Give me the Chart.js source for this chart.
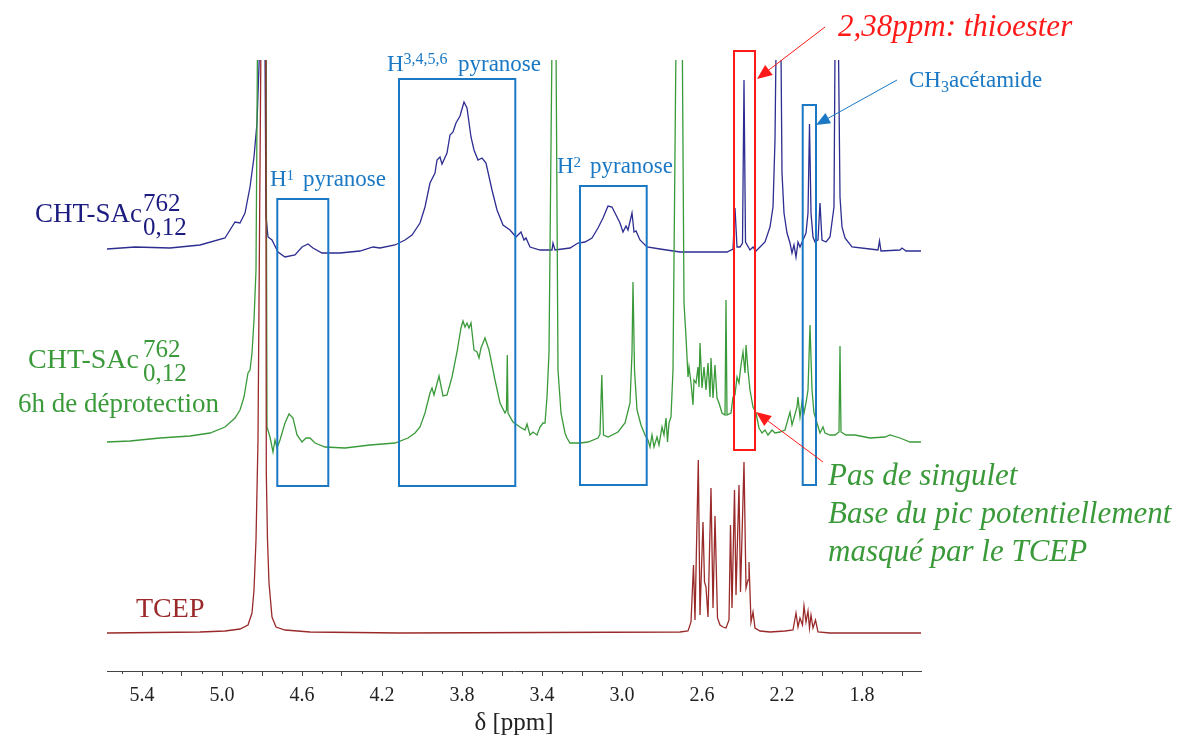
<!DOCTYPE html>
<html>
<head>
<meta charset="utf-8">
<title>RMN 1H - CHT-SAc</title>
<script src="https://cdn.jsdelivr.net/npm/chart.js@4.4.1/dist/chart.umd.min.js"></script>
<style>
  html, body { margin: 0; padding: 0; background: #fff; }
</style>
</head>
<body>
<canvas id="nmr" width="1186" height="740"></canvas>
<script>
/* ============================================
   DATA (ppm / intensity)
============================================ */
const ppmBlue = [
  5.575, 5.435, 5.26, 5.11, 4.985, 4.935, 4.91, 4.885, 4.86, 4.84,
  4.825, 4.8125, 4.7985, 4.785, 4.78, 4.77, 4.75, 4.72, 4.685, 4.635,
  4.6, 4.57, 4.545, 4.5, 4.41, 4.31, 4.245, 4.21, 4.135, 4.085,
  4.05, 4.01, 3.985, 3.96, 3.935, 3.925, 3.91, 3.9, 3.875, 3.86,
  3.845, 3.83, 3.81, 3.79, 3.775, 3.755, 3.74, 3.72, 3.7, 3.68,
  3.65, 3.625, 3.595, 3.56, 3.53, 3.505, 3.49, 3.48, 3.46, 3.41,
  3.35, 3.345, 3.335, 3.26, 3.22, 3.185, 3.15, 3.12, 3.095, 3.07,
  3.05, 3.03, 3.01, 2.995, 2.98, 2.97, 2.95, 2.94, 2.93, 2.91,
  2.875, 2.81, 2.71, 2.61, 2.475, 2.445, 2.435, 2.425, 2.41, 2.3975,
  2.39, 2.3825, 2.36, 2.345, 2.33, 2.31, 2.285, 2.27, 2.26, 2.245,
  2.235, 2.23, 2.2175, 2.205, 2.2, 2.19, 2.175, 2.16, 2.15, 2.14,
  2.13, 2.12, 2.11, 2.095, 2.08, 2.07, 2.0625, 2.055, 2.045, 2.035,
  2.02, 2.01, 2.0, 1.98, 1.96, 1.94, 1.935, 1.9265, 1.9175, 1.91,
  1.9, 1.885, 1.85, 1.76, 1.72, 1.7125, 1.705, 1.61, 1.6, 1.58,
  1.505
];
const intBlue = [
  2, 4, 3, 6, 13, 29, 28, 38, 64, 94,
  128, 200, 3000, 200, 35, 14, 11, -1, -6, -4,
  4, 7, 3, -2, -2, 0, 4, 3, 6, 11,
  16, 28, 44, 68, 78, 91, 94, 87, 98, 116,
  119, 128, 135, 149, 143, 114, 101, 91, 93, 88,
  61, 41, 26, 21, 14, 19, 11, 13, 4, 1,
  1, 8, 1, 3, 8, 9, 13, 23, 33, 45,
  44, 36, 28, 19, 25, 21, 38, 19, 20, 11,
  4, 2, -1, -1, -1, 2, 43, 4, 4, 8,
  171, 9, 1, 4, 0, 4, 9, 18, 24, 44,
  111, 200, 3000, 200, 78, 38, 18, 8, -2, 6,
  -6, 9, 4, 11, 18, 38, 127, 38, 14, 9,
  11, 48, 11, 9, 14, 44, 200, 3000, 200, 54,
  24, 13, 4, 2, 1, 10, 0, 1, 3, 0,
  0
];

const ppmGreen = [
  5.575, 5.46, 5.31, 5.16, 5.06, 4.985, 4.935, 4.91, 4.89, 4.87,
  4.86, 4.85, 4.84, 4.83, 4.8225, 4.8, 4.78, 4.775, 4.76, 4.745,
  4.735, 4.725, 4.71, 4.685, 4.665, 4.645, 4.625, 4.6, 4.58, 4.56,
  4.535, 4.485, 4.385, 4.26, 4.135, 4.07, 4.035, 4.01, 3.985, 3.96,
  3.95, 3.94, 3.915, 3.895, 3.875, 3.85, 3.825, 3.805, 3.795, 3.785,
  3.775, 3.765, 3.755, 3.74, 3.725, 3.715, 3.705, 3.685, 3.665, 3.635,
  3.61, 3.585, 3.5775, 3.5735, 3.57, 3.545, 3.51, 3.485, 3.475, 3.46,
  3.445, 3.425, 3.41, 3.395, 3.385, 3.375, 3.365, 3.35, 3.3375, 3.33,
  3.32, 3.305, 3.285, 3.275, 3.26, 3.21, 3.17, 3.12, 3.11, 3.101,
  3.0925, 3.07, 3.02, 2.985, 2.96, 2.95, 2.945, 2.9375, 2.925, 2.905,
  2.885, 2.87, 2.86, 2.85, 2.84, 2.825, 2.815, 2.8, 2.79, 2.78,
  2.7725, 2.765, 2.755, 2.745, 2.73, 2.715, 2.6985, 2.69, 2.68, 2.67,
  2.665, 2.655, 2.645, 2.64, 2.63, 2.62, 2.615, 2.61, 2.6, 2.59,
  2.58, 2.57, 2.56, 2.555, 2.545, 2.535, 2.525, 2.515, 2.5, 2.485,
  2.48, 2.475, 2.455, 2.445, 2.435, 2.425, 2.415, 2.405, 2.395, 2.385,
  2.38, 2.37, 2.36, 2.345, 2.33, 2.315, 2.3, 2.285, 2.27, 2.25,
  2.235, 2.21, 2.185, 2.16, 2.15, 2.14, 2.125, 2.12, 2.11, 2.1,
  2.09, 2.08, 2.07, 2.06, 2.05, 2.04, 2.025, 2.01, 1.995, 1.985,
  1.96, 1.935, 1.915, 1.91, 1.905, 1.88, 1.835, 1.76, 1.685, 1.66,
  1.61, 1.56, 1.505
];
const intGreen = [
  0, 1, 4, 6, 9, 15, 24, 32, 45, 69,
  72, 89, 122, 172, 400, 3000, 400, 15, 5, -10,
  2, -6, 2, 19, 28, 24, 7, 0, 4, 4,
  -1, -5, -6, -3, -1, 4, 9, 15, 29, 49,
  54, 47, 66, 46, 47, 65, 90, 114, 121, 115,
  119, 114, 119, 92, 90, 84, 94, 104, 92, 62,
  39, 29, 32, 87, 29, 20, 15, 12, 18, 7,
  10, 7, 15, 19, 19, 45, 89, 400, 3000, 400,
  72, 29, 9, 4, -1, -1, 0, 4, 8, 67,
  7, 5, 10, 19, 39, 89, 160, 72, 32, 17,
  7, 2, -5, 7, -5, 5, -3, 15, 7, 24,
  0, 19, 25, 72, 400, 3000, 400, 139, 105, 65,
  75, 59, 37, 62, 59, 75, 55, 99, 54, 75,
  52, 79, 45, 84, 44, 77, 44, 39, 29, 27,
  142, 27, 29, 45, 47, 65, 59, 77, 90, 69,
  97, 72, 52, 35, 29, 14, 9, 12, 7, 12,
  9, 10, 12, 30, 17, 24, 35, 45, 25, 40,
  29, 39, 52, 117, 52, 29, 19, 9, 15, 9,
  7, 7, 10, 96, 10, 7, 7, 4, 5, 7,
  4, 0, 0
];

const ppmTcep = [
  5.575, 5.11, 4.985, 4.91, 4.87, 4.85, 4.84, 4.83, 4.825, 4.82,
  4.805, 4.7935, 4.781, 4.7785, 4.7725, 4.765, 4.75, 4.73, 4.685, 4.56,
  4.11, 2.71, 2.67, 2.655, 2.6425, 2.635, 2.6185, 2.61, 2.595, 2.5875,
  2.58, 2.57, 2.555, 2.545, 2.535, 2.5225, 2.51, 2.495, 2.48, 2.465,
  2.4575, 2.45, 2.4375, 2.43, 2.415, 2.4075, 2.39, 2.38, 2.37, 2.365,
  2.355, 2.345, 2.335, 2.31, 2.26, 2.185, 2.145, 2.13, 2.12, 2.11,
  2.0975, 2.09, 2.08, 2.07, 2.0625, 2.055, 2.045, 2.0325, 2.02, 1.96,
  1.505
];
const intTcep = [
  0, 1, 2, 4, 8, 20, 43, 93, 143, 193,
  600, 5000, 600, 160, 93, 50, 16, 6, 3, 1,
  0, 1, 2, 11, 68, 13, 173, 18, 111, 51,
  46, 16, 145, 25, 117, 15, 8, 6, 5, 13,
  108, 25, 143, 38, 148, 41, 171, 45, 53, 71,
  11, 21, 5, 2, 1, 2, 3, 20, 6, 15,
  8, 27, 11, 22, 5, 18, 5, 13, 1, 0,
  0
];

const tickLabels = [5.4, 5.0, 4.6, 4.2, 3.8, 3.4, 3.0, 2.6, 2.2, 1.8];

/* ============================================
   STYLE / LAYOUT
============================================ */
const SERIF = "'Liberation Serif', 'Times New Roman', serif";
const NAVY = '#1c1c80';
const LINE_BLUE = '#2d2d92';
const GREEN = '#3a9a3a';
const BROWN = '#9a2a2a';
const BOX_BLUE = '#1a78c4';
const RED = '#ff1a1a';

// vertical stacking of the three traces (in y units = px above the axis)
const OFFSET_BLUE = 420;
const OFFSET_GREEN = 229;
const OFFSET_TCEP = 38;

function toPoints(ppm, vals, offset) {
    return ppm.map((p, i) => ({ x: p, y: vals[i] + offset }));
}

// frames drawn over the spectra (x in ppm, y in px)
const boxes = [
    { from: 4.7235, to: 4.4685, top: 199, bottom: 486, color: BOX_BLUE },
    { from: 4.115, to: 3.5335, top: 79, bottom: 486, color: BOX_BLUE },
    { from: 3.21, to: 2.8765, top: 186, bottom: 485, color: BOX_BLUE },
    { from: 2.44, to: 2.335, top: 51, bottom: 450, color: RED },
    { from: 2.0965, to: 2.03, top: 105, bottom: 485, color: BOX_BLUE }
];

/* ============================================
   DRAW HELPERS
============================================ */
function drawRuns(ctx, x, y, parts, color) {
    ctx.fillStyle = color;
    ctx.textAlign = 'left';
    ctx.textBaseline = 'alphabetic';
    parts.forEach(p => {
        ctx.font = (p.italic ? 'italic ' : '') + p.size + 'px ' + SERIF;
        if (p.x !== undefined) x = p.x;
        ctx.fillText(p.t, x, y + (p.dy || 0));
        x += ctx.measureText(p.t).width;
    });
}

function drawSampleLabel(ctx, x, y, size, color, supX) {
    ctx.fillStyle = color;
    ctx.textAlign = 'left';
    ctx.textBaseline = 'alphabetic';
    ctx.font = size + 'px ' + SERIF;
    ctx.fillText('CHT-SAc', x, y);
    const sx = Math.max(x + ctx.measureText('CHT-SAc').width, supX);
    ctx.font = '25px ' + SERIF;
    ctx.fillText('762', sx, y - 11);
    ctx.fillText('0,12', sx, y + 13);
}

function arrow(ctx, x1, y1, x2, y2, color, head) {
    const a = Math.atan2(y2 - y1, x2 - x1);
    const c = Math.cos(a), s = Math.sin(a);
    ctx.strokeStyle = color;
    ctx.fillStyle = color;
    ctx.lineWidth = 1;
    ctx.beginPath();
    ctx.moveTo(x1, y1);
    ctx.lineTo(x2 - head * 0.8 * c, y2 - head * 0.8 * s);
    ctx.stroke();
    ctx.beginPath();
    ctx.moveTo(x2, y2);
    ctx.lineTo(x2 - head * c + head * 0.42 * s, y2 - head * s - head * 0.42 * c);
    ctx.lineTo(x2 - head * c - head * 0.42 * s, y2 - head * s + head * 0.42 * c);
    ctx.closePath();
    ctx.fill();
}

/* ============================================
   PLUGINS
============================================ */
const minorTicks = {
    id: 'minorTicks',
    afterDraw(chart) {
        const sx = chart.scales.x;
        const ctx = chart.ctx;
        const y0 = chart.chartArea.bottom;
        ctx.save();
        ctx.strokeStyle = '#444';
        ctx.lineWidth = 1;
        for (let i = 15; i <= 56; i += 2) {
            const v = i / 10;
            if (v < sx.min || v > sx.max) continue;
            const x = Math.round(sx.getPixelForValue(v)) + 0.5;
            ctx.beginPath();
            ctx.moveTo(x, y0);
            ctx.lineTo(x, y0 + 3);
            ctx.stroke();
        }
        ctx.restore();
    }
};

const annotations = {
    id: 'annotations',
    afterDatasetsDraw(chart) {
        const ctx = chart.ctx;
        const sx = chart.scales.x;
        ctx.save();

        // frames
        ctx.lineWidth = 2;
        boxes.forEach(b => {
            const x1 = sx.getPixelForValue(b.from);
            const x2 = sx.getPixelForValue(b.to);
            ctx.strokeStyle = b.color;
            ctx.strokeRect(x1, b.top, x2 - x1, b.bottom - b.top);
        });

        // sample labels
        drawSampleLabel(ctx, 35, 222, 27, NAVY, 143);
        drawSampleLabel(ctx, 28, 368, 28, GREEN, 143);
        drawRuns(ctx, 18, 412, [{ t: '6h de déprotection', size: 27 }], GREEN);
        drawRuns(ctx, 136, 617, [{ t: 'TCEP', size: 28 }], BROWN);

        // region labels
        drawRuns(ctx, 270, 186, [
            { t: 'H', size: 23 }, { t: '1', size: 15, dy: -6 }, { t: 'pyranose', size: 23, x: 303 }
        ], BOX_BLUE);
        drawRuns(ctx, 387, 71, [
            { t: 'H', size: 23 }, { t: '3,4,5,6', size: 16, dy: -7 }, { t: 'pyranose', size: 23, x: 458 }
        ], BOX_BLUE);
        drawRuns(ctx, 557, 173, [
            { t: 'H', size: 23 }, { t: '2', size: 15, dy: -6 }, { t: 'pyranose', size: 23, x: 590 }
        ], BOX_BLUE);
        drawRuns(ctx, 909, 87, [
            { t: 'CH', size: 23 }, { t: '3', size: 16, dy: 5 }, { t: 'acétamide', size: 23 }
        ], BOX_BLUE);

        // comments
        drawRuns(ctx, 838, 36, [{ t: '2,38ppm: thioester', size: 31, italic: true }], RED);
        drawRuns(ctx, 828, 485, [{ t: 'Pas de singulet', size: 31, italic: true }], GREEN);
        drawRuns(ctx, 828, 523, [{ t: 'Base du pic potentiellement', size: 31, italic: true }], GREEN);
        drawRuns(ctx, 828, 561, [{ t: 'masqué par le TCEP', size: 31, italic: true }], GREEN);

        // arrows
        arrow(ctx, 825, 27, 757, 79, RED, 15);
        arrow(ctx, 897, 80, 816, 125, BOX_BLUE, 14);
        arrow(ctx, 823, 462, 756, 412, RED, 15);

        ctx.restore();
    }
};

/* ============================================
   CHART
============================================ */
function initSpectra() {
    const canvas = document.getElementById('nmr');

    new Chart(canvas.getContext('2d'), {
        type: 'line',
        data: {
            datasets: [
                {
                    label: 'TCEP',
                    data: toPoints(ppmTcep, intTcep, OFFSET_TCEP),
                    borderColor: BROWN,
                    borderWidth: 1.3
                },
                {
                    label: 'CHT-SAc 6h de déprotection',
                    data: toPoints(ppmGreen, intGreen, OFFSET_GREEN),
                    borderColor: GREEN,
                    borderWidth: 1.3
                },
                {
                    label: 'CHT-SAc',
                    data: toPoints(ppmBlue, intBlue, OFFSET_BLUE),
                    borderColor: LINE_BLUE,
                    borderWidth: 1.3
                }
            ]
        },
        options: {
            responsive: false,
            animation: false,
            elements: {
                point: { radius: 0 },
                line: { tension: 0 }
            },
            layout: {
                padding: { left: 107, right: 265, top: 60, bottom: 0 }
            },
            plugins: {
                legend: { display: false },
                tooltip: { enabled: false }
            },
            scales: {
                x: {
                    type: 'linear',
                    reverse: true,
                    min: 1.505,
                    max: 5.575,
                    afterBuildTicks: scale => {
                        const vals = [];
                        for (let i = 8; i <= 27; i++) vals.push(Math.round(i * 2) / 10);
                        scale.ticks = vals.map(v => ({ value: v }));
                    },
                    afterFit: scale => { scale.height = 69; },
                    grid: {
                        drawOnChartArea: false,
                        drawTicks: true,
                        tickLength: 5,
                        color: '#444'
                    },
                    border: { display: true, color: '#444', width: 1 },
                    ticks: {
                        autoSkip: false,
                        maxRotation: 0,
                        padding: 8,
                        color: '#222',
                        font: { family: SERIF, size: 20 },
                        callback: v => tickLabels.includes(+Number(v).toFixed(1)) ? Number(v).toFixed(1) : ''
                    },
                    title: {
                        display: true,
                        text: 'δ [ppm]',
                        color: '#222',
                        font: { family: SERIF, size: 25 },
                        padding: { top: 0, bottom: 2 }
                    }
                },
                y: {
                    display: false,
                    min: 0,
                    max: 611
                }
            }
        },
        plugins: [minorTicks, annotations]
    });
}

document.addEventListener('DOMContentLoaded', initSpectra);
</script>
</body>
</html>
